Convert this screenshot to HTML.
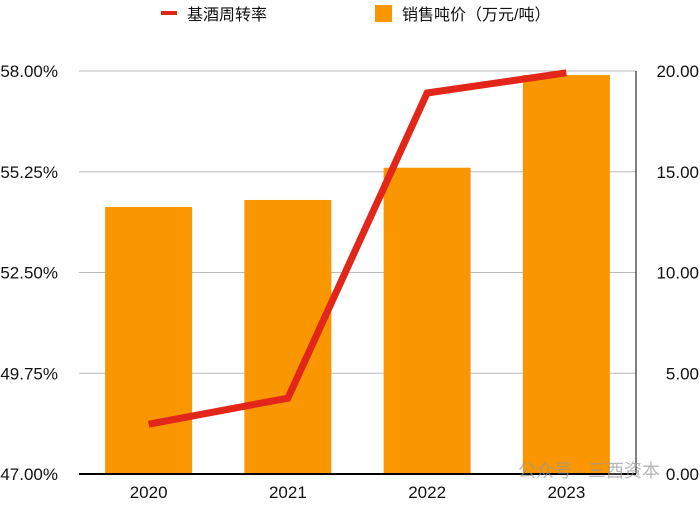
<!DOCTYPE html>
<html><head><meta charset="utf-8"><style>
body{margin:0;background:#fff;width:700px;height:502px;overflow:hidden;font-family:"Liberation Sans","Noto Sans CJK SC",sans-serif}
</style></head><body>
<svg id="c" width="700" height="502" xmlns="http://www.w3.org/2000/svg"></svg>
<script>
const categories=["2020","2021","2022","2023"];
const priceValues=[13.25,13.6,15.2,19.8];
const turnoverValues=[48.36,49.07,57.4,57.95];
const leftTicks=[47,49.75,52.5,55.25,58];
const rightTicks=[0,5,10,15,20];
const svg=document.getElementById('c');
const NS='http://www.w3.org/2000/svg';
const x0=79,x1=636,yTop=71,yBot=474;
const band=(x1-x0)/categories.length;
const xC=i=>x0+band*(i+0.5);
const yL=v=>yBot-(v-47)/(58-47)*(yBot-yTop);
const yR=v=>yBot-v/20*(yBot-yTop);
function el(t,a,txt){const e=document.createElementNS(NS,t);for(const k in a)e.setAttribute(k,a[k]);if(txt!=null)e.textContent=txt;svg.appendChild(e);return e;}
leftTicks.forEach((v,i)=>{
 if(i>0){const g=el('line',{x1:x0,x2:x1,y1:yL(v),y2:yL(v),stroke:'#bbb','stroke-width':1});
 
 }
 const t=el('text',{x:58,y:yL(v)+6,'text-anchor':'end','font-size':17,fill:'#111'},v.toFixed(2)+'%');
 
 
});
rightTicks.forEach(v=>{
 const t=el('text',{x:699,y:yR(v)+6,'text-anchor':'end','font-size':17,fill:'#111'},v.toFixed(2));
 
 
});
categories.forEach((c,i)=>{
 const w=87;
 const b=el('rect',{x:xC(i)-w/2,y:yR(priceValues[i]),width:w,height:yBot-yR(priceValues[i]),fill:'#fa9600'});
 
 
 const t=el('text',{x:xC(i),y:498,'text-anchor':'middle','font-size':17,fill:'#111'},c);
 
 
});
const ax=el('line',{x1:x0,x2:x1,y1:yBot,y2:yBot,stroke:'#000','stroke-width':2});


const ra=el('line',{x1:x1,x2:x1,y1:yTop,y2:yBot,stroke:'#000','stroke-width':1});


const pl=el('polyline',{points:turnoverValues.map((v,i)=>xC(i)+','+yL(v)).join(' '),fill:'none',stroke:'#e3261a','stroke-width':7,'stroke-linejoin':'miter'});


const wm=el('text',{x:518,y:477,'font-size':18,fill:'#999','fill-opacity':0.7},'公众号 · 三酉资本');


const l1=el('rect',{x:161,y:11,width:16,height:4,fill:'#e3261a'});


const lt1=el('text',{x:187,y:20,'font-size':16,fill:'#111'},'基酒周转率');


const l2=el('rect',{x:375,y:5,width:17,height:17,fill:'#fa9600'});


const lt2=el('text',{x:402,y:20,'font-size':16,fill:'#111'},'销售吨价（万元/吨）');


</script>
</body></html>
